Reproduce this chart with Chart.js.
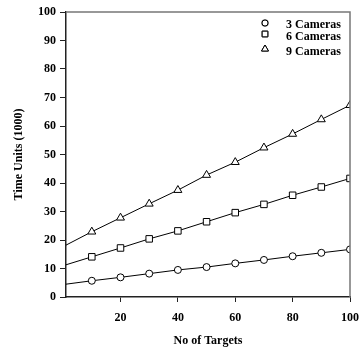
<!DOCTYPE html>
<html>
<head>
<meta charset="utf-8">
<script src="https://cdn.jsdelivr.net/npm/chart.js"></script>
<style>
  html, body { margin: 0; padding: 0; background: #fff; }
  #wrap { width: 362px; height: 348px; }
</style>
</head>
<body>
<div id="wrap"><canvas id="myChart" width="362" height="348"></canvas></div>
<script>
// number of targets (first entry is where the lines start, no marker there)
var targets = [1, 10, 20, 30, 40, 50, 60, 70, 80, 90, 100];
var cams3 = [4.5, 5.7, 6.9, 8.2, 9.5, 10.5, 11.8, 13.0, 14.3, 15.5, 16.7];
var cams6 = [11.3, 14.1, 17.2, 20.4, 23.2, 26.4, 29.6, 32.5, 35.7, 38.6, 41.6];
var cams9 = [18.2, 22.9, 27.8, 32.7, 37.5, 42.8, 47.3, 52.4, 57.2, 62.3, 67.3];
var seriesNames = ["3 Cameras", "6 Cameras", "9 Cameras"];
var xTicks = [20, 40, 60, 80, 100];
var yTicks = [0, 10, 20, 30, 40, 50, 60, 70, 80, 90, 100];

var serif = "'Liberation Serif', 'Times New Roman', serif";

function pts(vals) {
  return vals.map(function (v, i) { return { x: targets[i], y: vals[i] }; });
}
function radii(r) {
  return targets.map(function (t, i) { return i === 0 ? 0 : r; });
}

function makeSet(label, vals, style, r) {
  return {
    label: label,
    data: pts(vals),
    borderColor: "#000",
    borderWidth: 1,
    backgroundColor: "#fff",
    pointStyle: style,
    pointRadius: radii(r),
    pointBorderColor: "#000",
    pointBackgroundColor: "#fff",
    pointBorderWidth: 1,
    fill: false,
    tension: 0
  };
}

// box on top and right + hand-made legend in the corner
var framePlugin = {
  id: "frame",
  afterDraw: function (chart) {
    var c = chart.ctx, a = chart.chartArea;
    c.save();
    c.strokeStyle = "#777";
    c.lineWidth = 1.5;
    c.beginPath();
    c.moveTo(a.left, a.top);
    c.lineTo(a.right, a.top);
    c.lineTo(a.right, a.bottom);
    c.stroke();

    var sets = chart.data.datasets;
    var symY = [23, 34, 49];
    var txtY = [25, 37, 52];
    c.font = "bold 12px " + serif;
    c.textBaseline = "middle";
    c.fillStyle = "#000";
    for (var i = 0; i < sets.length; i++) {
      Chart.helpers.drawPoint(c, {
        pointStyle: sets[i].pointStyle,
        radius: i === 0 ? 3 : 4,
        borderWidth: 1,
        rotation: 0
      }, 265, symY[i]);
      c.strokeStyle = "#000";
      c.lineWidth = 1;
      c.fillStyle = "#fff";
      c.fill();
      c.stroke();
      c.fillStyle = "#000";
      c.fillText(sets[i].label, 286, txtY[i]);
    }
    c.restore();
  }
};

var ctx = document.getElementById('myChart').getContext('2d');
var myChart = new Chart(ctx, {
  type: 'line',
  data: {
    datasets: [
      makeSet(seriesNames[0], cams3, 'circle', 3.5),
      makeSet(seriesNames[1], cams6, 'rect', 4.6),
      makeSet(seriesNames[2], cams9, 'triangle', 4.6)
    ]
  },
  options: {
    responsive: false,
    animation: false,
    layout: { padding: { top: 12, right: 0, left: 12, bottom: 0 } },
    plugins: {
      legend: { display: false },
      tooltip: { enabled: false }
    },
    scales: {
      x: {
        type: 'linear',
        min: 1,
        max: 100,
        afterBuildTicks: function (s) {
          s.ticks = xTicks.map(function (v) { return { value: v }; });
        },
        afterFit: function (s) {
          s.height = 51;
          s.paddingRight = 12;
          s.paddingLeft = 0;
        },
        border: { color: "#222", width: 1.5 },
        grid: { drawOnChartArea: false, tickLength: 5, color: "#222" },
        ticks: {
          color: "#000",
          font: { family: serif, weight: 'bold', size: 12 },
          padding: 9,
          maxRotation: 0
        },
        title: {
          display: true,
          text: "No of Targets",
          color: "#000",
          font: { family: serif, weight: 'bold', size: 12 },
          padding: { top: 6, bottom: 0 }
        }
      },
      y: {
        min: 0,
        max: 100,
        afterBuildTicks: function (s) {
          s.ticks = yTicks.map(function (v) { return { value: v }; });
        },
        afterFit: function (s) { s.width = 54; },
        border: { color: "#222", width: 1.5 },
        grid: { drawOnChartArea: false, tickLength: 6, color: "#222" },
        ticks: {
          color: "#000",
          font: { family: serif, weight: 'bold', size: 12 },
          padding: 4
        },
        title: {
          display: true,
          text: "Time Units (1000)",
          color: "#000",
          font: { family: serif, weight: 'bold', size: 12 },
          padding: { top: 0, bottom: 4 }
        }
      }
    }
  },
  plugins: [framePlugin]
});
</script>
</body>
</html>
